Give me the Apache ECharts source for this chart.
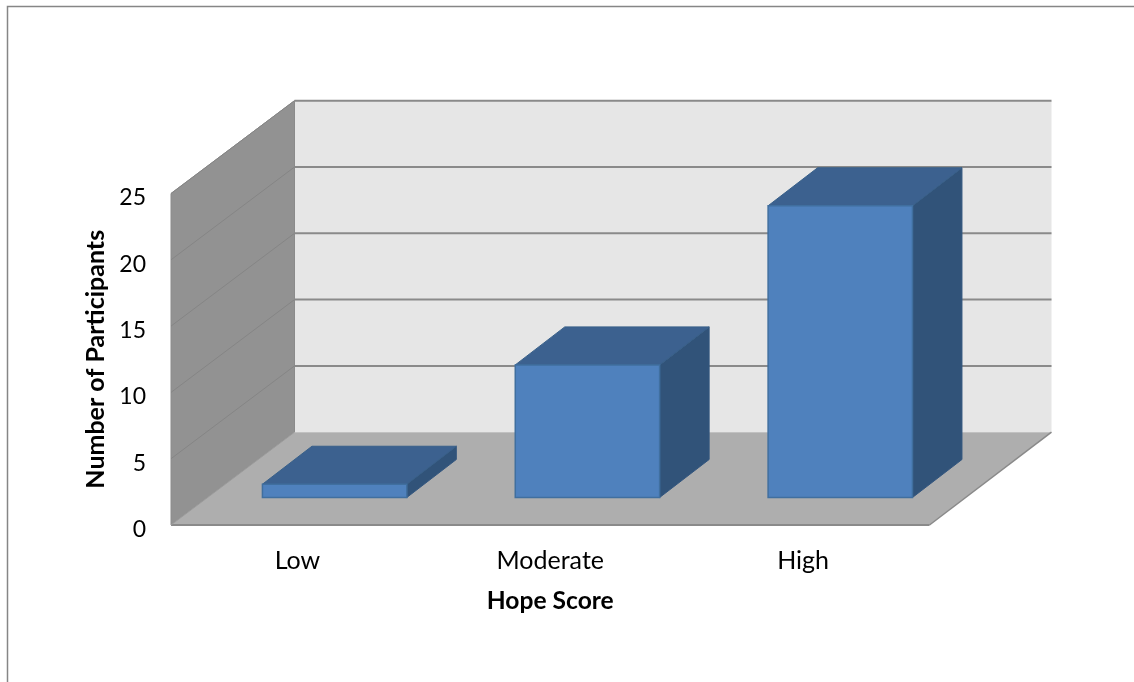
<!DOCTYPE html>
<html>
<head>
<meta charset="utf-8">
<title>Hope Score</title>
<style>
  html, body { margin: 0; padding: 0; background: #fff; overflow: hidden; }
  #chart { width: 1134px; height: 682px; }
</style>
<script src="https://cdn.jsdelivr.net/npm/echarts@6/dist/echarts.min.js"></script>
</head>
<body>
<div id="chart"></div>
<script>
const categories = ['Low', 'Moderate', 'High'];
const participants = [1, 10, 22];
const yTicks = [0, 5, 10, 15, 20, 25];

// Oblique projection of the box: how far the back wall sits from the front plane.
// The right edge recedes slightly less than the left one.
const BOX_DX = 123.5, BOX_DX_RIGHT = 122, BOX_DY = -92.8;
// Bars stand part way into the box and have their own, shorter, depth.
const BAR_SHIFT_X = 37.2, BAR_SHIFT_Y = -27.5;
const BAR_DX = 49.5, BAR_DY = -38;
const BAR_WIDTH_RATIO = 0.571;

const FONT = 'Lato';
const GRID_LINE = '#8a8a8a';

function poly(points, fill, stroke, lineWidth) {
  return {
    type: 'polygon',
    shape: { points },
    style: { fill, stroke: stroke || fill, lineWidth: lineWidth || 0 }
  };
}

// Back wall, side wall and floor of the box.
function renderWalls(params) {
  const c = params.coordSys;
  const l = c.x, r = c.x + c.width, t = c.y, b = c.y + c.height;
  const bl = l + BOX_DX, br = r + BOX_DX_RIGHT, dy = BOX_DY;
  return {
    type: 'group',
    children: [
      poly([[bl, t + dy], [br, t + dy], [br, b + dy], [bl, b + dy]], '#e6e6e6'),
      poly([[l, t], [bl, t + dy], [bl, b + dy], [l, b]], '#929292', '#8b8b8b', 1),
      poly([[l, b], [bl, b + dy], [br, b + dy], [r, b]], '#aeaeae'),
      { type: 'line', shape: { x1: l, y1: b, x2: r, y2: b }, style: { stroke: GRID_LINE, lineWidth: 2 } },
      { type: 'line', shape: { x1: r, y1: b, x2: br, y2: b + dy }, style: { stroke: GRID_LINE, lineWidth: 1.5 } },
      { type: 'line', shape: { x1: l, y1: b, x2: bl, y2: b + dy }, style: { stroke: '#9c9c9c', lineWidth: 1 } }
    ]
  };
}

// One gridline per tick: across the side wall, then along the back wall.
function renderGridLine(params, api) {
  const c = params.coordSys;
  const y = api.coord([0, api.value(0)])[1];
  const x0 = c.x, x1 = c.x + BOX_DX, x2 = c.x + c.width + BOX_DX_RIGHT;
  const yb = y + BOX_DY;
  return {
    type: 'group',
    children: [
      { type: 'line', shape: { x1: x0, y1: y, x2: x1, y2: yb }, style: { stroke: '#858585', lineWidth: 1 } },
      { type: 'line', shape: { x1: x1, y1: yb, x2: x2, y2: yb }, style: { stroke: GRID_LINE, lineWidth: 2 } }
    ]
  };
}

function renderBar(params, api) {
  const top = api.coord([api.value(0), api.value(1)]);
  const base = api.coord([api.value(0), 0]);
  const w = api.size([1, 0])[0] * BAR_WIDTH_RATIO;
  const l = top[0] - w / 2 + BAR_SHIFT_X, r = l + w;
  const t = top[1] + BAR_SHIFT_Y, b = base[1] + BAR_SHIFT_Y;
  const dx = BAR_DX, dy = BAR_DY;
  return {
    type: 'group',
    children: [
      poly([[r, t], [r + dx, t + dy], [r + dx, b + dy], [r, b]], '#315379', '#33567f', 1),
      poly([[l, t], [l + dx, t + dy], [r + dx, t + dy], [r, t]], '#3c618f', '#386089', 1),
      poly([[l, t], [r, t], [r, b], [l, b]], '#4f81bd', '#406f9f', 1.5)
    ]
  };
}

const chart = echarts.init(document.getElementById('chart'), null, { renderer: 'canvas' });
chart.setOption({
  animation: false,
  backgroundColor: '#ffffff',
  graphic: [{
    type: 'rect',
    shape: { x: 7.5, y: 6.5, width: 1300, height: 900 },
    style: { fill: 'none', stroke: '#868686', lineWidth: 1.5 },
    silent: true
  }],
  grid: { left: 171, top: 193.5, width: 758.5, height: 331.5 },
  xAxis: {
    type: 'category',
    data: categories,
    name: 'Hope Score',
    nameLocation: 'middle',
    nameGap: 64,
    nameTextStyle: { fontFamily: FONT, fontWeight: 'bold', fontSize: 24.6, color: '#000' },
    axisLine: { show: false },
    axisTick: { show: false },
    axisLabel: { fontFamily: FONT, fontSize: 25, color: '#000', margin: 23 },
    splitLine: { show: false }
  },
  yAxis: {
    type: 'value',
    min: 0,
    max: 25,
    interval: 5,
    name: 'Number of Participants',
    nameLocation: 'middle',
    nameRotate: 90,
    nameGap: 58,
    nameTextStyle: { fontFamily: FONT, fontWeight: 'bold', fontSize: 25, color: '#000' },
    axisLine: { show: false },
    axisTick: { show: false },
    axisLabel: { fontFamily: FONT, fontSize: 23, color: '#000', margin: 25, verticalAlign: 'top', lineHeight: 9 },
    splitLine: { show: false }
  },
  series: [
    { type: 'custom', name: 'Walls', silent: true, clip: false, z: 1, renderItem: renderWalls, data: [[0]] },
    {
      type: 'custom', name: 'Gridlines', silent: true, clip: false, z: 2,
      renderItem: renderGridLine,
      encode: { y: 0 },
      data: yTicks.slice(1).map(v => [v])
    },
    {
      type: 'custom', name: 'Number of Participants', silent: true, clip: false, z: 3,
      renderItem: renderBar,
      encode: { x: 0, y: 1 },
      data: participants.map((v, i) => [i, v])
    }
  ]
});
</script>
</body>
</html>
